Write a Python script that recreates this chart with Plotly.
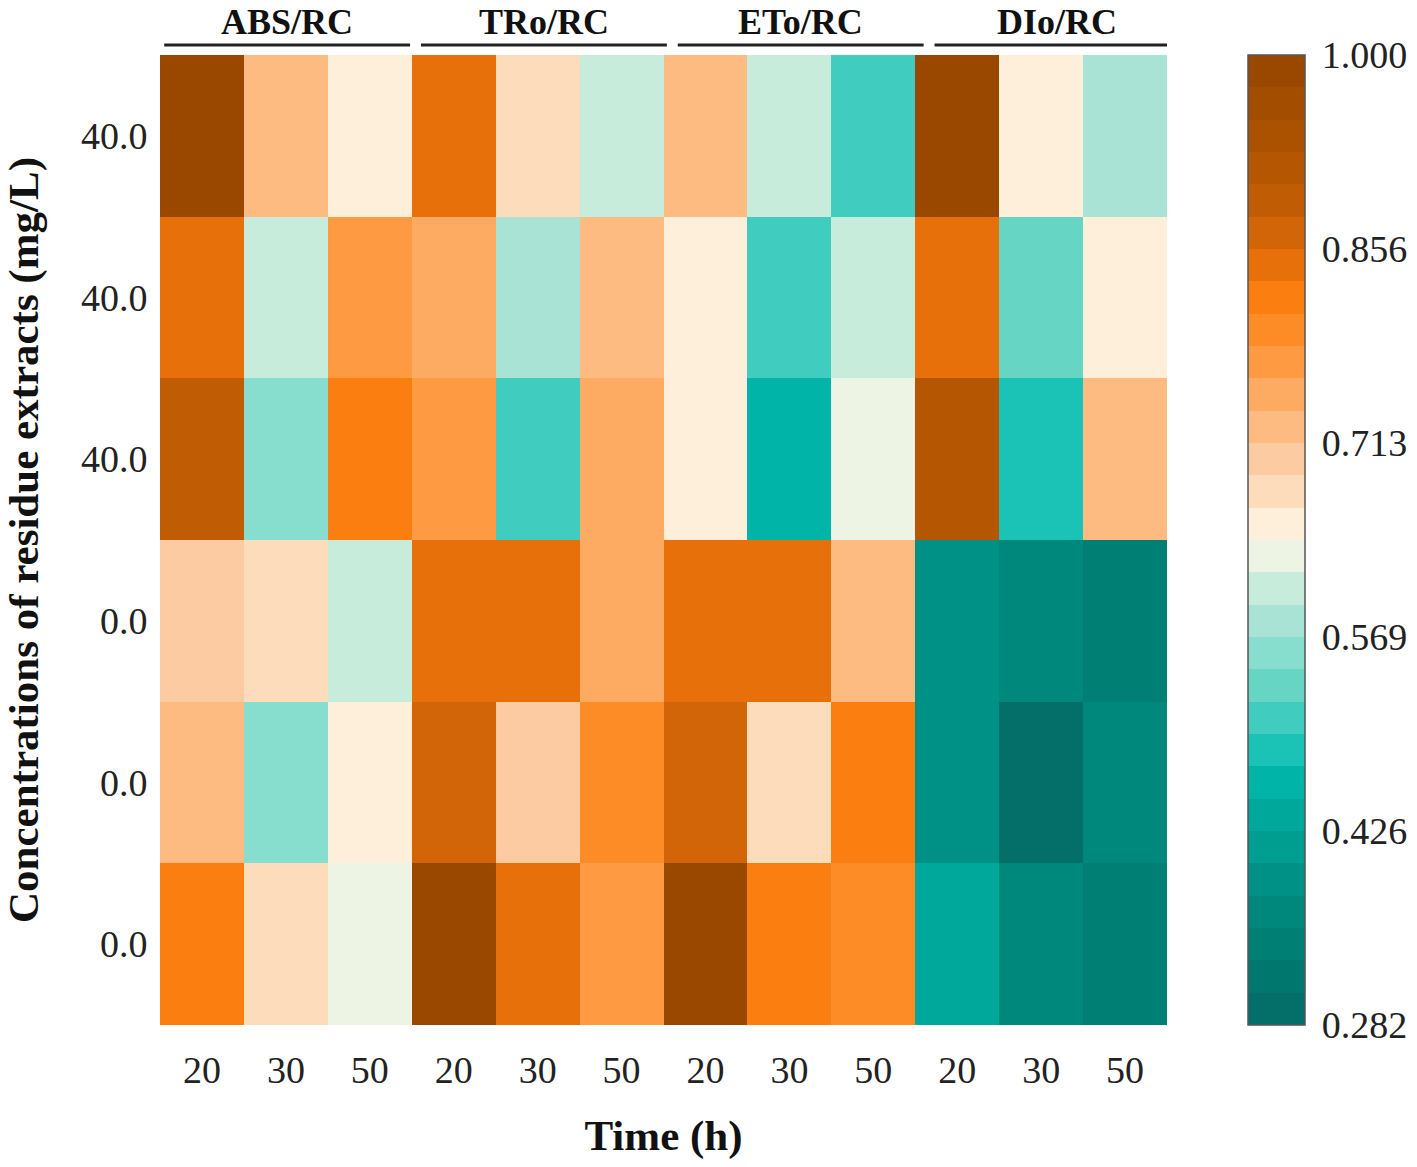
import plotly.graph_objects as go

# ---------------- data ----------------
groups = ["ABS/RC", "TRo/RC", "ETo/RC", "DIo/RC"]
times = ["20", "30", "50"]
conc_labels = ["40.0", "40.0", "40.0", "0.0", "0.0", "0.0"]  # top to bottom

abs_rc = [
    [1.000, 0.725, 0.653],
    [0.844, 0.605, 0.773],
    [0.892, 0.557, 0.821],
    [0.701, 0.677, 0.605],
    [0.725, 0.557, 0.653],
    [0.821, 0.677, 0.629],
]
tro_rc = [
    [0.844, 0.677, 0.605],
    [0.749, 0.581, 0.725],
    [0.773, 0.509, 0.749],
    [0.844, 0.844, 0.749],
    [0.868, 0.701, 0.797],
    [0.995, 0.844, 0.773],
]
eto_rc = [
    [0.725, 0.605, 0.509],
    [0.653, 0.509, 0.605],
    [0.653, 0.462, 0.629],
    [0.844, 0.844, 0.725],
    [0.868, 0.677, 0.821],
    [0.990, 0.821, 0.797],
]
dio_rc = [
    [0.993, 0.653, 0.581],
    [0.844, 0.533, 0.653],
    [0.916, 0.485, 0.725],
    [0.390, 0.366, 0.342],
    [0.390, 0.282, 0.366],
    [0.438, 0.366, 0.342],
]

zmin, zmax = 0.282, 1.000
cb_ticktext = ["0.282", "0.426", "0.569", "0.713", "0.856", "1.000"]

# palette: 30 discrete bands, top (max) to bottom (min)
palette_top_down = [
    "#9a4800", "#a24d00", "#ab5200", "#b45602", "#c05c04", "#d26507",
    "#e8700b", "#fb7e10", "#fd8b26", "#fd9a42", "#fdaa62", "#fdbb82",
    "#fdcba2", "#fddcbc", "#fdefda", "#eef4e4", "#c8ecdc", "#a8e3d5",
    "#88dece", "#66d5c3", "#40cdbf", "#1ac3b5", "#00b5a7", "#00a89c",
    "#009d91", "#009186", "#00887d", "#007f75", "#00776e", "#036f68",
]

# ---------------- build ----------------
blocks = [abs_rc, tro_rc, eto_rc, dio_rc]
z = [sum((b[r] for b in blocks), []) for r in range(len(conc_labels))]
ncol = len(groups) * len(times)

pal = palette_top_down[::-1]
n = len(pal)
colorscale = []
for i, c in enumerate(pal):
    colorscale.append([i / n, c])
    colorscale.append([(i + 1) / n, c])

cb_tickvals = [zmin + k * (zmax - zmin) / (len(cb_ticktext) - 1) for k in range(len(cb_ticktext))]

FONT = "Liberation Serif, Times New Roman, serif"

fig = go.Figure(
    go.Heatmap(
        z=z,
        x=list(range(ncol)),
        y=list(range(len(conc_labels))),
        colorscale=colorscale,
        zmin=zmin,
        zmax=zmax,
        xgap=0,
        ygap=0,
        colorbar=dict(
            thickness=57,
            thicknessmode="pixels",
            len=1.0,
            lenmode="fraction",
            y=0.5,
            yanchor="middle",
            x=1.0804,
            xanchor="left",
            xpad=0,
            ypad=0,
            outlinewidth=1.5,
            outlinecolor="#555555",
            tickvals=cb_tickvals,
            ticktext=cb_ticktext,
            ticks="outside",
            ticklen=9,
            tickcolor="rgba(0,0,0,0)",
            tickfont=dict(family=FONT, size=38, color="#222222"),
        ),
    )
)

# group labels and bracket lines above the heatmap
for g, name in enumerate(groups):
    x0 = g * len(times) - 0.45 + 0.06 * g
    x1 = g * len(times) + 2.48 + 0.06 * g
    fig.add_shape(type="line", xref="x", yref="paper", x0=x0, x1=x1,
                  y0=1.0103, y1=1.0103, line=dict(color="#222222", width=3))
    fig.add_annotation(text="<b>" + name + "</b>", xref="x", yref="paper",
                       x=(x0 + x1) / 2, y=1.034, yanchor="middle",
                       showarrow=False,
                       font=dict(family=FONT, size=36, color="#111111"))

fig.update_layout(
    width=1417,
    height=1167,
    margin=dict(l=160, r=250, t=55, b=142, autoexpand=False),
    paper_bgcolor="white",
    plot_bgcolor="white",
    font=dict(family=FONT, color="#222222"),
    xaxis=dict(
        automargin=False,
        tickvals=list(range(ncol)),
        ticktext=times * len(groups),
        tickfont=dict(family=FONT, size=38, color="#222222"),
        ticks="outside",
        ticklen=11,
        tickcolor="rgba(0,0,0,0)",
        showgrid=False,
        zeroline=False,
        showline=False,
        range=[-0.5, ncol - 0.5],
        title=dict(text="<b>Time (h)</b>", font=dict(family=FONT, size=43, color="#111111"), standoff=30),
    ),
    yaxis=dict(
        automargin=False,
        tickvals=list(range(len(conc_labels))),
        ticktext=conc_labels,
        tickfont=dict(family=FONT, size=38, color="#222222"),
        ticks="outside",
        ticklen=4,
        tickcolor="rgba(0,0,0,0)",
        showgrid=False,
        zeroline=False,
        showline=False,
        range=[len(conc_labels) - 0.5, -0.5],
        title=dict(text="<b>Concentrations of residue extracts (mg/L)</b>",
                   font=dict(family=FONT, size=43, color="#111111"), standoff=32),
    ),
)

fig.write_html("out.html", config={"displayModeBar": False},
               post_script="document.body.style.margin='0px';")
